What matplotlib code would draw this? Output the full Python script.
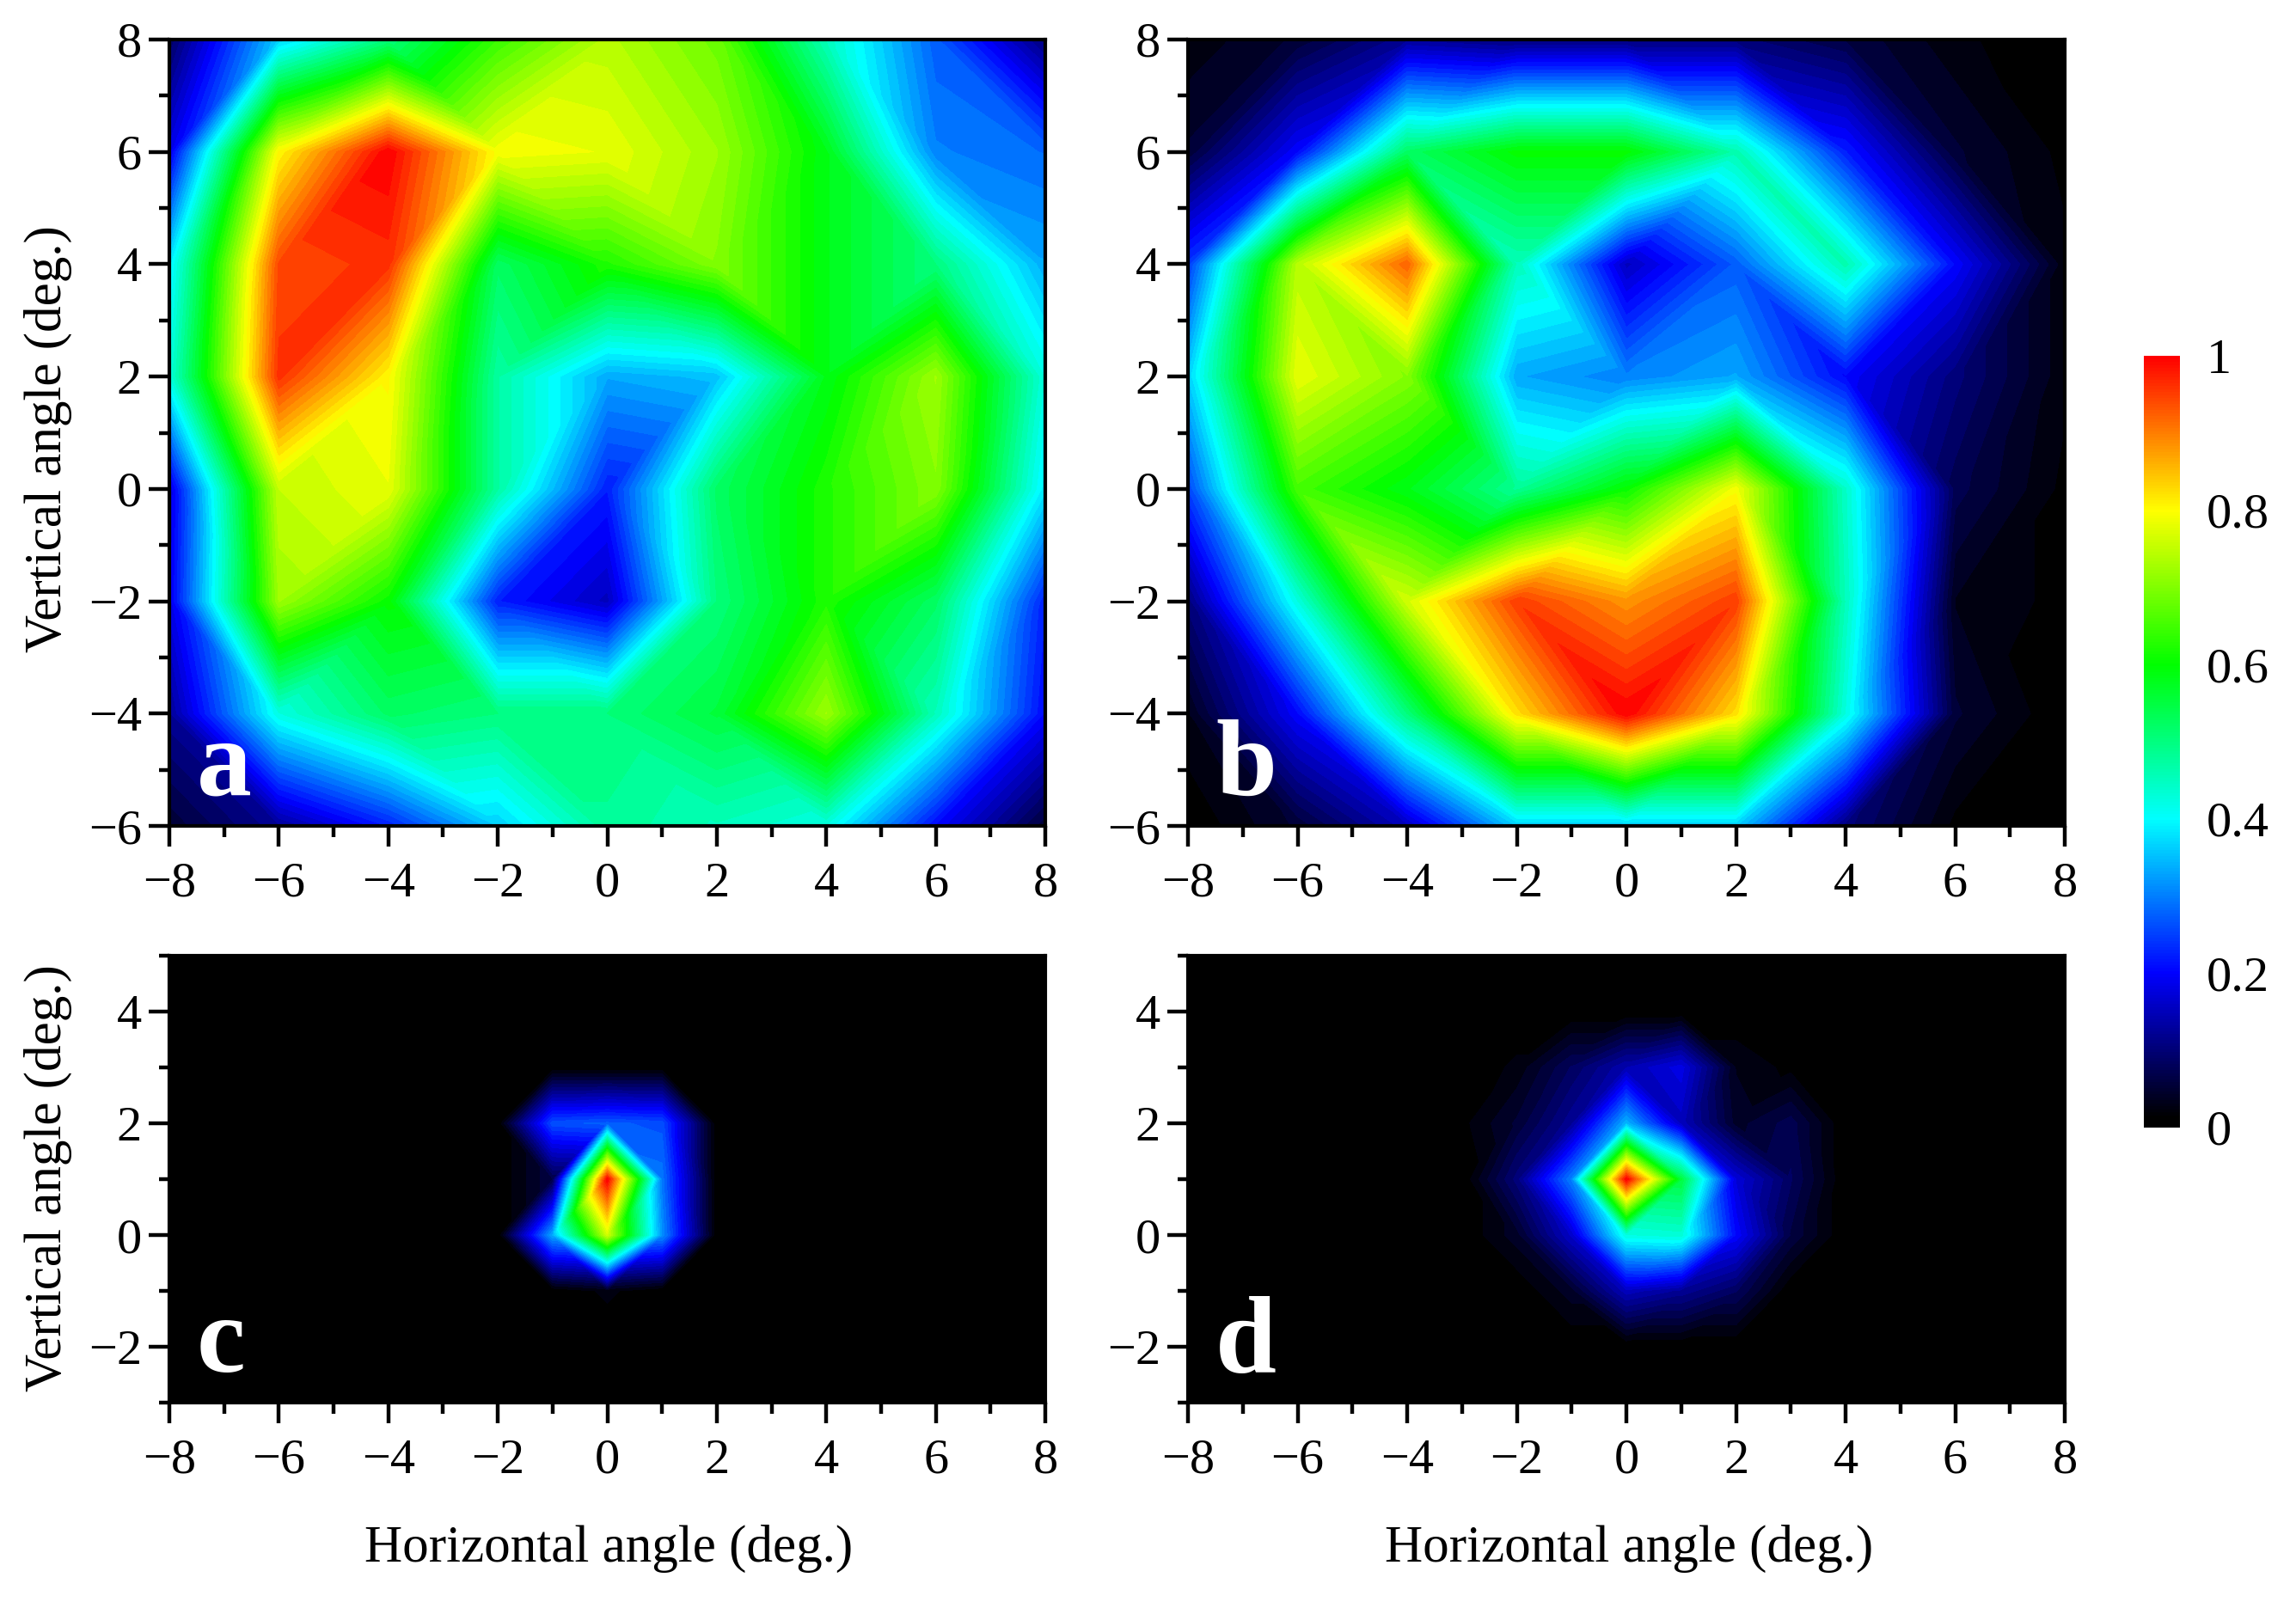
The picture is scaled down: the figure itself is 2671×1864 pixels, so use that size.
# -*- coding: utf-8 -*-
"""
Angular maps of four samples with a shared colour scale
"""
import numpy as np
import matplotlib
matplotlib.use('Agg')
import matplotlib.pyplot as plt
import matplotlib.tri as mtri
from matplotlib.colors import LinearSegmentedColormap, Normalize
from matplotlib.cm import ScalarMappable

plt.rcParams['font.family'] = ['Liberation Serif', 'DejaVu Serif']

# top panels, 2 deg. grid
x_top = [-8, -6, -4, -2, 0, 2, 4, 6, 8]
y_top = [-6, -4, -2, 0, 2, 4, 6, 8]
# rows go from y=-6 up to y=8
a_m6 = [.05, .12, .22, .36, .48, .45, .42, .20, .05]
a_m4 = [.12, .42, .52, .50, .50, .55, .72, .45, .20]
a_m2 = [.18, .72, .60, .22, .15, .50, .62, .52, .22]
a_0 = [.17, .75, .78, .47, .22, .52, .62, .70, .38]
a_2 = [.42, .96, .80, .47, .33, .35, .58, .72, .42]
a_4 = [.38, .94, .96, .52, .62, .70, .58, .50, .33]
a_6 = [.18, .80, 1.0, .79, .78, .72, .58, .30, .28]
a_8 = [.08, .36, .50, .64, .74, .68, .45, .27, .10]

b_m6 = [.00, .05, .15, .36, .36, .36, .10, .01, .00]
b_m4 = [.03, .20, .50, .82, 1.0, .82, .42, .05, .00]
b_m2 = [.10, .42, .76, .95, .88, .95, .45, .03, .01]
b_0 = [.25, .65, .58, .48, .60, .79, .44, .07, .01]
b_2 = [.36, .78, .70, .33, .30, .33, .20, .10, .02]
b_4 = [.24, .74, .92, .45, .15, .27, .46, .20, .02]
b_6 = [.05, .20, .52, .60, .60, .46, .22, .05, .01]
b_8 = [.02, .05, .12, .10, .10, .10, .06, .02, .00]

# bottom panels, 1 deg. grid around the spot
x_c = [-3, -2, -1, 0, 1, 2, 3]
y_c = [-2, -1, 0, 1, 2, 3, 4]
c_m2 = [0, 0, 0, 0, 0, 0, 0]
c_m1 = [0, 0, 0, .02, 0, 0, 0]
c_0 = [0, 0, .33, .76, .31, 0, 0]
c_1 = [0, 0, .06, 1.0, .29, 0, 0]
c_2 = [0, 0, .26, .27, .26, 0, 0]
c_3 = [0, 0, 0, 0, 0, 0, 0]
c_4 = [0, 0, 0, 0, 0, 0, 0]

x_d = [-4, -3, -2, -1, 0, 1, 2, 3, 4]
y_d = [-2, -1, 0, 1, 2, 3, 4]
d_m2 = [0, 0, 0, 0, 0, 0, 0, 0, 0]
d_m1 = [0, 0, 0, .04, .15, .12, .08, 0, 0]
d_0 = [0, 0, .04, .16, .42, .43, .20, .06, 0]
d_1 = [0, 0, .10, .30, 1.0, .55, .17, .08, 0]
d_2 = [0, .01, .05, .12, .34, .15, .04, .07, 0]
d_3 = [0, 0, .02, .08, .14, .18, .03, .01, 0]
d_4 = [0, 0, 0, 0, 0, 0, 0, 0, 0]

cbar_ticks = [0, 0.2, 0.4, 0.6, 0.8, 1]
cbar_labels = ['0', '0.2', '0.4', '0.6', '0.8', '1']

W, H = 2671, 1864
cmap = LinearSegmentedColormap.from_list(
    'map', [(0, '#000000'), (0.012, '#000000'), (0.2, '#0000ff'), (0.4, '#00ffff'),
            (0.6, '#00ff00'), (0.8, '#ffff00'), (1, '#ff0000')], N=256)
levels = np.linspace(0, 1, 65)
norm = Normalize(0, 1)


# axes from pixel box
def box(l, t, r, b):
    return [l / W, 1 - b / H, (r - l) / W, (b - t) / H]


# split each grid cell along the diagonal whose two corners are closest in value
def grid_tri(x, y, z):
    z = np.array(z, dtype=float)
    nx = len(x)
    xx, yy = np.meshgrid(x, y)
    tris = []
    for j in range(len(y) - 1):
        for i in range(nx - 1):
            p00 = j * nx + i
            p10 = p00 + 1
            p01 = p00 + nx
            p11 = p01 + 1
            if abs(z[j, i] - z[j + 1, i + 1]) <= abs(z[j, i + 1] - z[j + 1, i]):
                tris += [[p00, p10, p11], [p00, p11, p01]]
            else:
                tris += [[p00, p10, p01], [p10, p11, p01]]
    return mtri.Triangulation(xx.ravel(), yy.ravel(), tris), z.ravel()


def draw_map(rect, x, y, z, ylim, yticks, letter):
    ax = fig.add_axes(box(*rect))
    ax.set_facecolor('black')
    tri, zz = grid_tri(x, y, z)
    ax.tricontourf(tri, zz, levels=levels, cmap=cmap, norm=norm)
    ax.set_xlim(-8, 8)
    ax.set_ylim(*ylim)
    ax.set_xticks(range(-8, 9, 2))
    ax.set_xticks(range(-8, 9), minor=True)
    ax.set_yticks(yticks)
    ax.set_yticks(range(ylim[0], ylim[1] + 1), minor=True)
    ax.tick_params(which='major', length=17, width=3.2, labelsize=42, pad=6)
    ax.tick_params(axis='x', which='major', pad=13)
    ax.tick_params(which='minor', length=9, width=3.2)
    for s in ax.spines.values():
        s.set_linewidth(3)
    ax.text(rect[0] + 32, H - rect[3] + 36, letter, color='white', fontsize=92,
            fontweight='bold', transform=None, va='baseline')
    return ax


fig = plt.figure(figsize=(W / 100, H / 100), dpi=100)

a = [a_m6, a_m4, a_m2, a_0, a_2, a_4, a_6, a_8]
b = [b_m6, b_m4, b_m2, b_0, b_2, b_4, b_6, b_8]
c = [c_m2, c_m1, c_0, c_1, c_2, c_3, c_4]
d = [d_m2, d_m1, d_0, d_1, d_2, d_3, d_4]

ax_a = draw_map((197, 46, 1216, 961), x_top, y_top, a, (-6, 8), range(-6, 9, 2), 'a')
ax_b = draw_map((1382, 46, 2402, 961), x_top, y_top, b, (-6, 8), range(-6, 9, 2), 'b')
ax_c = draw_map((197, 1112, 1216, 1632), x_c, y_c, c, (-3, 5), range(-2, 5, 2), 'c')
ax_d = draw_map((1382, 1112, 2402, 1632), x_d, y_d, d, (-3, 5), range(-2, 5, 2), 'd')

fig.text(56 / W, 1 - 511 / H, 'Vertical angle (deg.)', rotation=90, fontsize=44,
         ha='center', va='center')
fig.text(56 / W, 1 - 1371 / H, 'Vertical angle (deg.)', rotation=90, fontsize=44,
         ha='center', va='center')
fig.text(708 / W, 1 - 1802 / H, 'Horizontal angle (deg.)', fontsize=44,
         ha='center', va='center')
fig.text(1895 / W, 1 - 1802 / H, 'Horizontal angle (deg.)', fontsize=44,
         ha='center', va='center')

# colour bar
cax = fig.add_axes(box(2494, 414, 2536, 1312))
cb = fig.colorbar(ScalarMappable(norm=norm, cmap=cmap), cax=cax)
cb.outline.set_visible(False)
cb.set_ticks(cbar_ticks)
cb.set_ticklabels(cbar_labels)
cb.ax.tick_params(length=0, labelsize=42, pad=22)
cb.minorticks_off()

fig.savefig('out.png', dpi=100)
